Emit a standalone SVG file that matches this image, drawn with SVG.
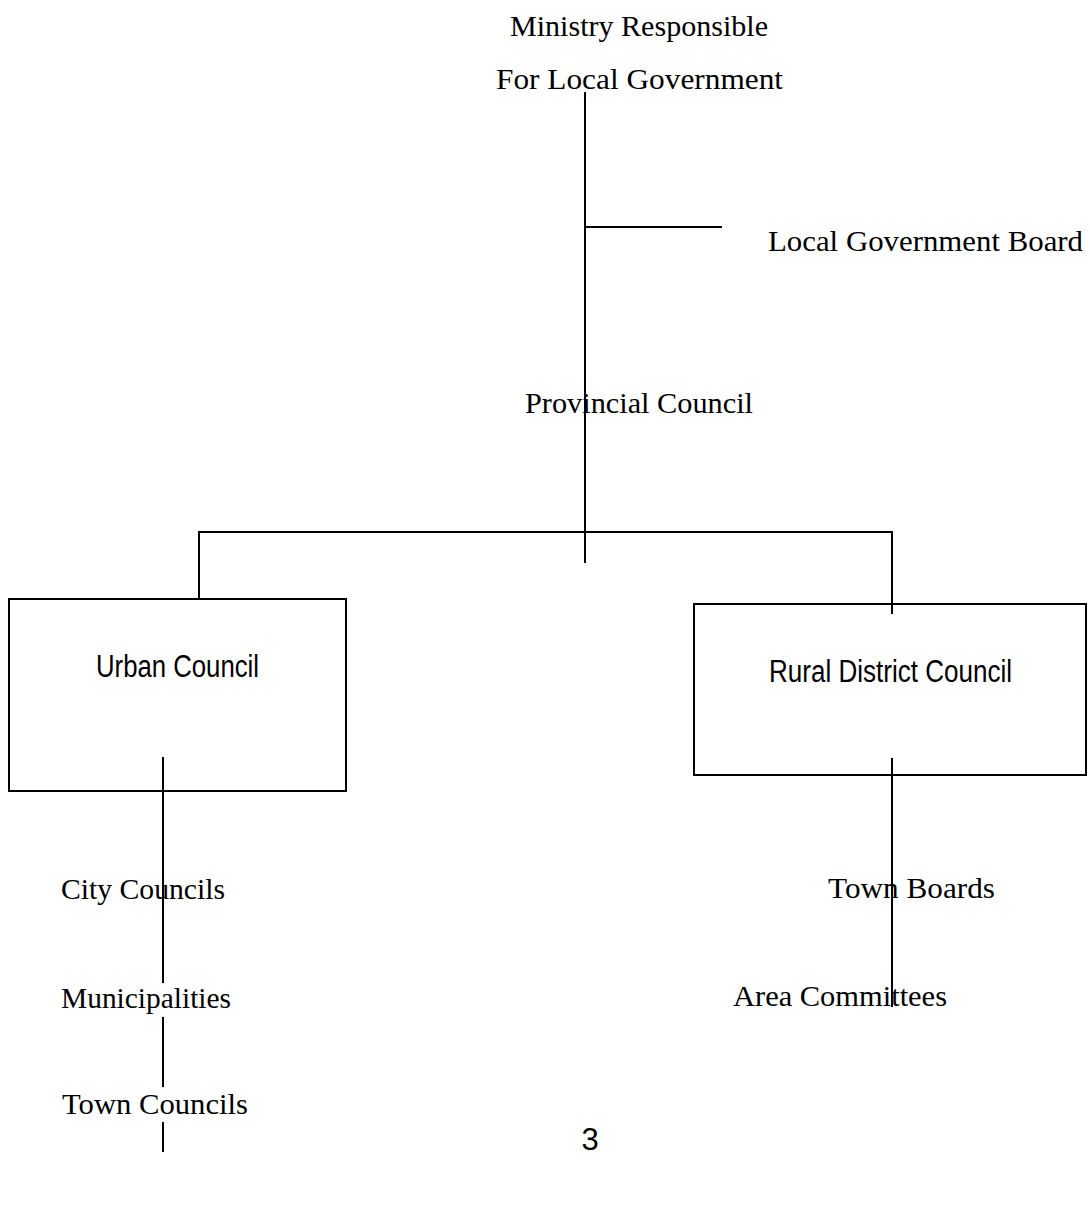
<svg xmlns="http://www.w3.org/2000/svg" width="1090" height="1207" viewBox="0 0 1090 1207">
  <style>
    .serif { font-family: "Liberation Serif", "Times New Roman", serif; font-size: 30px; fill: #000; }
    .sans { font-family: "Liberation Sans Narrow", "Liberation Sans", Arial, sans-serif; font-size: 31px; fill: #000; }
    .box { fill: none; stroke: #000; stroke-width: 2; }
    .ln { stroke: #000; stroke-width: 2; fill: none; }
  </style>
  <rect x="0" y="0" width="1090" height="1207" fill="#fff"/>

  <g id="ministry">
    <text class="serif" x="510" y="36" textLength="258" lengthAdjust="spacingAndGlyphs">Ministry Responsible</text>
    <text class="serif" x="496" y="89" textLength="287" lengthAdjust="spacingAndGlyphs">For Local Government</text>
  </g>
  <g id="local-government-board">
    <text class="serif" x="768" y="251" textLength="315" lengthAdjust="spacingAndGlyphs">Local Government Board</text>
  </g>
  <g id="provincial-council">
    <text class="serif" x="525" y="413" textLength="228" lengthAdjust="spacingAndGlyphs">Provincial Council</text>
  </g>
  <g id="urban-council">
    <rect class="box" x="9" y="599" width="337" height="192"/>
    <text class="sans" x="96" y="677" textLength="163" lengthAdjust="spacingAndGlyphs">Urban Council</text>
  </g>
  <g id="rural-district-council">
    <rect class="box" x="694" y="604" width="392" height="171"/>
    <text class="sans" x="769" y="682" textLength="243" lengthAdjust="spacingAndGlyphs">Rural District Council</text>
  </g>
  <g id="city-councils">
    <text class="serif" x="61" y="899" textLength="164" lengthAdjust="spacingAndGlyphs">City Councils</text>
  </g>
  <g id="municipalities">
    <text class="serif" x="61" y="1008" textLength="170" lengthAdjust="spacingAndGlyphs">Municipalities</text>
  </g>
  <g id="town-councils">
    <text class="serif" x="62" y="1114" textLength="186" lengthAdjust="spacingAndGlyphs">Town Councils</text>
  </g>
  <g id="town-boards">
    <text class="serif" x="828" y="898" textLength="167" lengthAdjust="spacingAndGlyphs">Town Boards</text>
  </g>
  <g id="area-committees">
    <text class="serif" x="733" y="1006" textLength="214" lengthAdjust="spacingAndGlyphs">Area Committees</text>
  </g>
  <g id="page-number">
    <text class="sans" x="590" y="1150" text-anchor="middle" font-size="28">3</text>
  </g>

  <g id="connectors">
    <line class="ln" x1="585" y1="92" x2="585" y2="563"/>
    <line class="ln" x1="585" y1="418" x2="585" y2="477" stroke-width="3"/>
    <line class="ln" x1="585" y1="227" x2="722" y2="227"/>
    <polyline class="ln" points="199,599 199,532 892,532 892,614"/>
    <line class="ln" x1="163" y1="757" x2="163" y2="983"/>
    <line class="ln" x1="163" y1="1017" x2="163" y2="1087"/>
    <line class="ln" x1="163" y1="1122" x2="163" y2="1152"/>
    <line class="ln" x1="892" y1="758" x2="892" y2="1007"/>
  </g>
</svg>
